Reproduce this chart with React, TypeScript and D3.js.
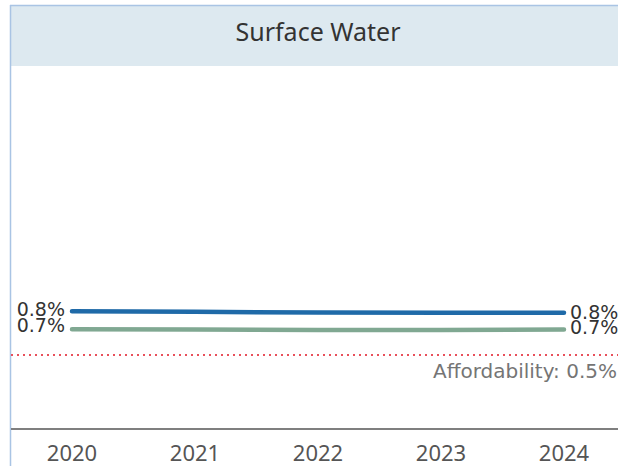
import React from "react";
import * as d3 from "d3";

const years = ["2020", "2021", "2022", "2023", "2024"];
const seriesA = [0.795, 0.791, 0.786, 0.785, 0.784];
const seriesB = [0.674, 0.671, 0.668, 0.669, 0.671];
const seriesALabel = "0.8%";
const seriesBLabel = "0.7%";
const threshold = 0.5;
const thresholdLabel = "Affordability: 0.5%";
const title = "Surface Water";

const W = 618;
const H = 466;

export default function App() {
  const x = d3.scalePoint<string>().domain(years).range([72, 564]);
  const y = d3.scaleLinear().domain([0, 2.45]).range([429, 66]);
  const line = d3
    .line<number>()
    .x((_, i) => x(years[i]) as number)
    .y((d) => y(d));
  const font = "'Noto Sans', sans-serif";
  const labelFont = "'DejaVu Sans', sans-serif";
  const x0 = x(years[0]) as number;
  const x1 = x(years[years.length - 1]) as number;
  return (
    <svg
      width={W}
      height={H}
      style={{ position: "absolute", left: 0, top: 0, background: "#fff" }}
      fontFamily={font}
    >
      <rect x={10} y={5} width={W - 10} height={61} fill="#dde9f0" />
      <line x1={10} x2={W} y1={5.5} y2={5.5} stroke="#a9c4e4" strokeWidth={1.5} />
      <line x1={10.5} x2={10.5} y1={5} y2={H} stroke="#a9c4e4" strokeWidth={1.5} />
      <text x={318} y={41} textAnchor="middle" fontSize={25} fill="#333">
        {title}
      </text>

      <line
        x1={11}
        x2={W}
        y1={y(threshold)}
        y2={y(threshold)}
        stroke="#e8505b"
        strokeWidth={2}
        strokeDasharray="2,4"
      />
      <text x={617} y={378} textAnchor="end" fontSize={20} fill="#757575" fontFamily={labelFont}>
        {thresholdLabel}
      </text>

      <path d={line(seriesB) || ""} fill="none" stroke="#80a892" strokeWidth={4.5} strokeLinecap="round" />
      <path d={line(seriesA) || ""} fill="none" stroke="#1f6aa8" strokeWidth={4.5} strokeLinecap="round" />

      <g fontFamily={labelFont} fontSize={19} fill="#333">
        <text x={x0 - 7} y={y(seriesA[0]) + 5} textAnchor="end">
          {seriesALabel}
        </text>
        <text x={x0 - 7} y={y(seriesB[0]) + 3} textAnchor="end">
          {seriesBLabel}
        </text>
        <text x={x1 + 6} y={y(seriesA[4]) + 6} textAnchor="start">
          {seriesALabel}
        </text>
        <text x={x1 + 6} y={y(seriesB[4]) + 4} textAnchor="start">
          {seriesBLabel}
        </text>
      </g>

      <line x1={11} x2={W} y1={429} y2={429} stroke="#7f7f7f" strokeWidth={2} />
      {years.map((yr) => (
        <text key={yr} x={x(yr)} y={461} textAnchor="middle" fontSize={22} fill="#555">
          {yr}
        </text>
      ))}
    </svg>
  );
}
